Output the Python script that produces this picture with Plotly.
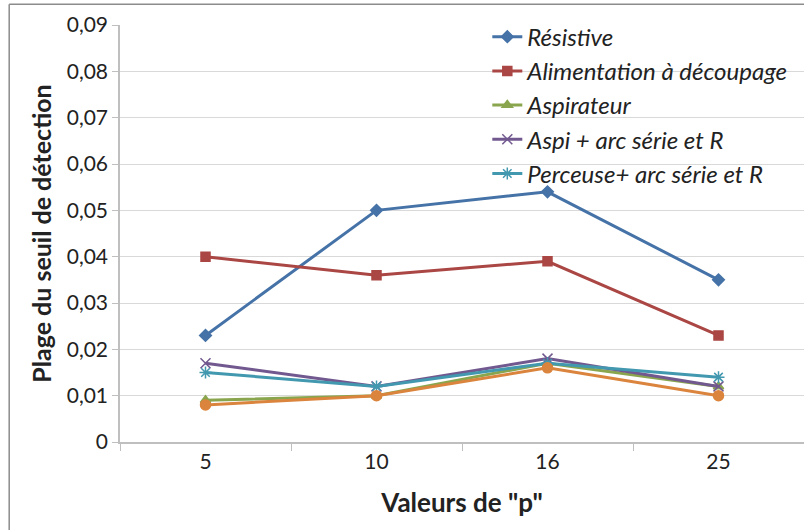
import plotly.graph_objects as go

categories = ["5", "10", "16", "25"]
resistive = [0.023, 0.050, 0.054, 0.035]
alimentation = [0.040, 0.036, 0.039, 0.023]
aspirateur = [0.009, 0.010, 0.017, 0.012]
aspi_arc = [0.017, 0.012, 0.018, 0.012]
perceuse_arc = [0.015, 0.012, 0.017, 0.014]
serie6 = [0.008, 0.010, 0.016, 0.010]

series = [
    ("Résistive", resistive, "#4572A7", "diamond", 9, True),
    ("Alimentation à découpage", alimentation, "#AA4643", "square", 9, True),
    ("Aspirateur", aspirateur, "#89A54E", "triangle-up", 9, True),
    ("Aspi + arc série et R", aspi_arc, "#71588F", "x-thin", 10, True),
    ("Perceuse+ arc série et R", perceuse_arc, "#4198AF", "asterisk", 10, True),
    ("Série 6", serie6, "#DB843D", "circle", 10, False),
]

fig = go.Figure()
for name, vals, col, sym, size, show in series:
    fig.add_trace(go.Scatter(
        x=categories, y=vals, name="<i>" + name + "</i>", mode="lines+markers",
        line=dict(color=col, width=3),
        marker=dict(symbol=sym, size=size, color=col,
                    line=dict(color=col, width=1.5)),
        showlegend=show,
    ))

font = "Lato, 'Open Sans', sans-serif"
fig.update_layout(
    width=804, height=530,
    margin=dict(l=120, r=0, t=25, b=88),
    paper_bgcolor="white", plot_bgcolor="white",
    font=dict(family=font, color="#222222"),
    showlegend=True,
    legend=dict(x=0.537, y=1.025, xanchor="left", yanchor="top",
                bgcolor="rgba(0,0,0,0)", font=dict(size=24, family=font),
                tracegroupgap=0, itemwidth=30),
    xaxis=dict(
        type="category", showgrid=False, showline=True, linecolor="#BFBFBF",
        linewidth=1.5, ticks="outside", tickson="boundaries", ticklen=7,
        tickcolor="#BFBFBF", tickfont=dict(size=21), range=[-0.5, 3.5],
        title=dict(text="<b>Valeurs de \"p\"</b>", font=dict(size=26), standoff=22),
    ),
    yaxis=dict(
        range=[0, 0.09], showgrid=True, gridcolor="#D9D9D9", gridwidth=1.2,
        showline=True, linecolor="#BFBFBF", linewidth=1.5,
        ticks="outside", ticklen=6, tickcolor="#BFBFBF",
        tickfont=dict(size=21), zeroline=False,
        tickvals=[i / 100 for i in range(10)],
        ticktext=["0"] + ["0,0%d" % i for i in range(1, 10)],
        title=dict(text="<b>Plage du seuil de détection</b>", font=dict(size=25), standoff=8),
    ),
    shapes=[
        dict(type="line", xref="paper", yref="paper", x0=-0.162, x1=1.0,
             y0=1.05, y1=1.05, line=dict(color="#8C8C8C", width=1.5)),
        dict(type="line", xref="paper", yref="paper", x0=-0.162, x1=-0.162,
             y0=1.05, y1=-0.23, line=dict(color="#8C8C8C", width=1.5)),
    ],
)
fig.write_html("out.html", config={"displayModeBar": False},
               post_script="document.body.style.margin='0px';")
